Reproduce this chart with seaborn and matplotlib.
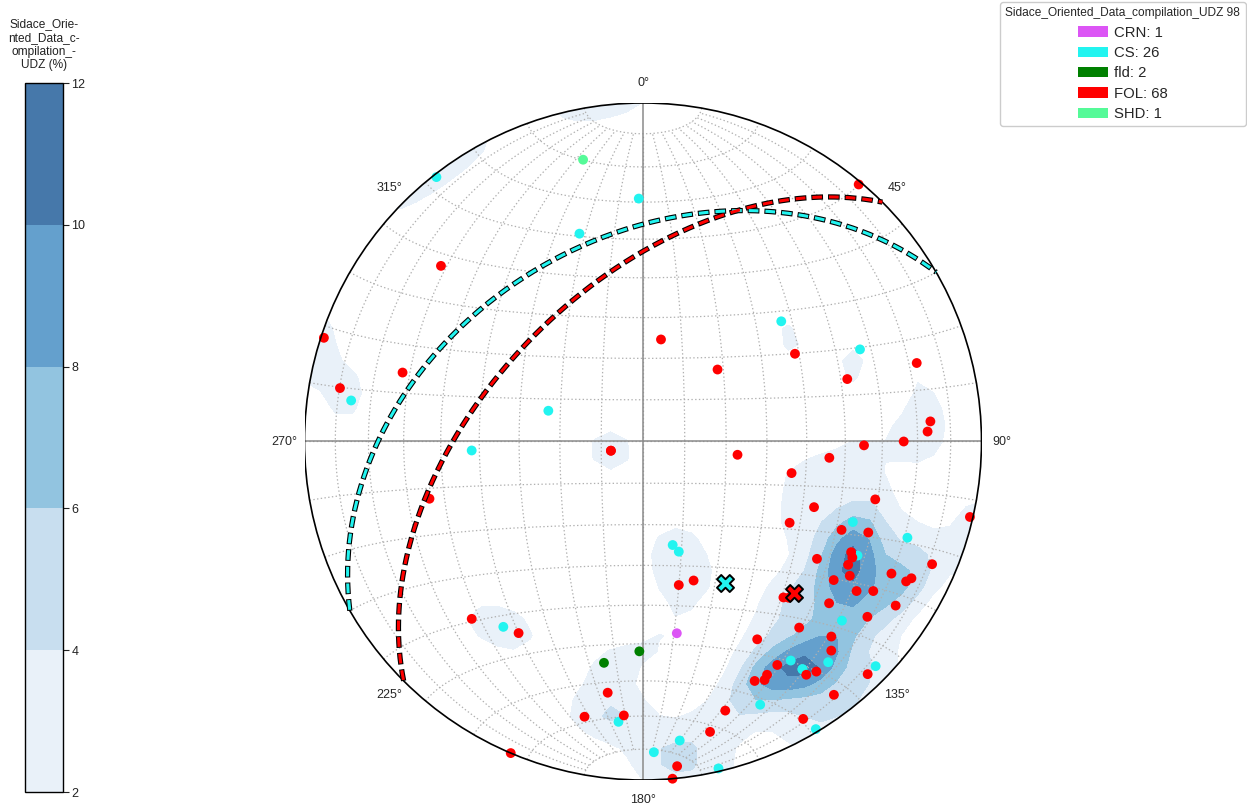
"""Equal-area stereonet of the Sidace oriented data (UDZ): poles, density, mean planes."""

import numpy as np
import pandas as pd
import matplotlib

matplotlib.use("Agg")
import matplotlib.pyplot as plt
import seaborn as sns
from matplotlib.patches import Circle, Patch


# pole orientations (trend / plunge, degrees)
CRN_TREND = [170]
CRN_PLUNGE = [42]

CS_TREND = [322, 278, 359, 343, 288, 49, 67, 267, 217, 164, 162, 185, 173,
            178, 167, 111, 110, 118, 132, 140, 146, 145, 134, 156, 149, 145]
CS_PLUNGE = [1, 14, 29, 36, 66, 45, 31, 48, 32, 64, 62, 18, 12,
             9, 1, 34, 18, 29, 22, 16, 23, 19, 5, 16, 1, 19]

FLD_TREND = [181, 190]
FLD_PLUNGE = [38, 34]

FOL_TREND = [311, 288, 286, 280, 10, 46, 40, 60, 73, 74, 86, 88, 90, 91,
             255, 224, 213, 203, 254, 98, 160, 166, 188, 192, 184, 163, 167,
             174, 175, 95, 102, 104, 111, 119, 103, 114, 112, 118, 119, 121,
             124, 113, 123, 126, 118, 118, 117, 123, 125, 138, 137, 131, 123,
             128, 140, 150, 136, 138, 149, 143, 145, 136, 152, 153, 155, 143,
             150, 254]
FOL_PLUNGE = [22, 1, 27, 10, 65, 65, 1, 47, 37, 17, 16, 17, 24, 35,
              35, 28, 33, 0, 82, 67, 54, 54, 26, 18, 20, 18, 13,
              4, 0, 44, 53, 30, 45, 49, 1, 36, 29, 31, 30, 30,
              38, 8, 28, 31, 18, 13, 12, 20, 24, 38, 37, 28, 12,
              17, 29, 33, 21, 18, 24, 16, 17, 5, 23, 22, 23, 7,
              6, 82]

SHD_TREND = [348]
SHD_PLUNGE = [16]

CLASSES = ["CRN", "CS", "fld", "FOL", "SHD"]
CLASS_COLORS = {
    "CRN": "#dc55f5",
    "CS": "#22f4f0",
    "fld": "#008000",
    "FOL": "#ff0000",
    "SHD": "#55fa98",
}

# mean planes, given by their poles
MEAN_CLASSES = ["CS", "FOL"]
MEAN_TREND = [150, 135]
MEAN_PLUNGE = [50, 37]

LEVELS = [2, 4, 6, 8, 10, 12]
LEVEL_COLORS = ["#e9f1f9", "#c8deef", "#92c4e0", "#64a0cd", "#4678aa"]
AZIMUTHS = [0, 45, 90, 135, 180, 225, 270, 315]
DATASET = "Sidace_Oriented_Data_compilation_UDZ"

W, H = 1247, 805
CX, CY, RAD = 643, 441.5, 338.5


def pole_vectors(trend, plunge):
    t = np.radians(np.asarray(trend, float))
    p = np.radians(np.asarray(plunge, float))
    return np.stack([np.cos(p) * np.sin(t), np.cos(p) * np.cos(t), np.sin(p)], axis=-1)


def project(vec):
    # lower hemisphere, equal-area, unit primitive
    sgn = np.where(vec[..., 2] < 0, -1.0, 1.0)
    e, n, d = vec[..., 0] * sgn, vec[..., 1] * sgn, vec[..., 2] * sgn
    theta = np.arccos(np.clip(d, 0, 1))
    h = np.hypot(e, n)
    h = np.where(h == 0, 1.0, h)
    r = np.sqrt(2) * np.sin(theta / 2)
    return r * e / h, r * n / h


def lonlat_xy(lon, lat):
    lon, lat = np.radians(lon), np.radians(lat)
    k = np.sqrt(2 / (1 + np.cos(lat) * np.cos(lon)))
    return k * np.cos(lat) * np.sin(lon) / np.sqrt(2), k * np.sin(lat) / np.sqrt(2)


def great_circle(trend, plunge):
    t, p = np.radians(trend), np.radians(plunge)
    s = np.array([np.cos(t), -np.sin(t), 0.0])
    dv = np.array([-np.sin(p) * np.sin(t), -np.sin(p) * np.cos(t), np.cos(p)])
    a = np.linspace(0, np.pi, 300)[:, None]
    return project(np.cos(a) * s + np.sin(a) * dv)


def density_grid(vecs, n=45, k=115.0, scale=1.45):
    g = np.linspace(-1.05, 1.05, n)
    gx, gy = np.meshgrid(g, g)
    rr = np.minimum(np.hypot(gx, gy), 1.0)
    theta = 2 * np.arcsin(rr / np.sqrt(2))
    az = np.arctan2(gx, gy)
    nodes = np.stack([np.sin(theta) * np.sin(az), np.sin(theta) * np.cos(az), np.cos(theta)], -1)
    cosg = np.abs(nodes @ vecs.T)
    dens = scale * np.exp(k * (cosg - 1)).sum(-1)
    return gx, gy, np.minimum(dens, 11.99)


def main() -> None:
    sns.set_theme(style="white")
    plt.rcParams["font.family"] = ["Liberation Sans", "DejaVu Sans"]
    plt.rcParams["lines.scale_dashes"] = False

    trends = {"CRN": CRN_TREND, "CS": CS_TREND, "fld": FLD_TREND, "FOL": FOL_TREND, "SHD": SHD_TREND}
    plunges = {"CRN": CRN_PLUNGE, "CS": CS_PLUNGE, "fld": FLD_PLUNGE, "FOL": FOL_PLUNGE, "SHD": SHD_PLUNGE}

    frames = []
    for cls in CLASSES:
        x, y = project(pole_vectors(trends[cls], plunges[cls]))
        frames.append(pd.DataFrame({"x": x, "y": y, "cls": cls}))
    df = pd.concat(frames, ignore_index=True)
    all_vecs = np.concatenate([pole_vectors(trends[c], plunges[c]) for c in CLASSES])

    fig = plt.figure(figsize=(W / 100, H / 100), dpi=100)
    ax = fig.add_axes([(CX - RAD) / W, (H - CY - RAD) / H, 2 * RAD / W, 2 * RAD / H])
    ax.set_xlim(-1, 1)
    ax.set_ylim(-1, 1)
    ax.set_aspect("equal")
    ax.set_axis_off()

    # density of all poles
    gx, gy, dens = density_grid(all_vecs)
    cs = ax.contourf(gx, gy, dens, levels=LEVELS, colors=LEVEL_COLORS, zorder=1)
    clip = Circle((0, 0), 1.0, transform=ax.transData)
    cs.set_clip_path(clip)

    # net: meridians capped at 80 deg, parallels every 10 deg
    grid_kw = dict(color="#b0b0b0", lw=0.9, linestyle=(0, (1.0, 1.7)), zorder=2)
    for lat in range(-80, 90, 10):
        x, y = lonlat_xy(np.linspace(-90, 90, 181), np.full(181, lat))
        ax.plot(x, y, **grid_kw)
    for lon in range(-80, 90, 10):
        x, y = lonlat_xy(np.full(161, lon), np.linspace(-80, 80, 161))
        ax.plot(x, y, **grid_kw)
    ax.plot([-1, 1], [0, 0], color="#8a8a8a", lw=1.1, zorder=2.5)
    ax.plot([0, 0], [-1, 1], color="#8a8a8a", lw=1.1, zorder=2.5)
    ax.add_patch(Circle((0, 0), 1.0, fill=False, ec="black", lw=1.2, zorder=5))

    sns.scatterplot(data=df, x="x", y="y", hue="cls", hue_order=CLASSES, palette=CLASS_COLORS,
                    s=50, linewidth=0, legend=False, ax=ax, zorder=4, clip_on=False)
    ax.set_xlabel("")
    ax.set_ylabel("")

    # mean planes and their poles
    for cls, t, p in zip(MEAN_CLASSES, MEAN_TREND, MEAN_PLUNGE):
        x, y = great_circle(t, p)
        ax.plot(x, y, color="black", lw=3.8, dashes=(8.4, 3.6), zorder=5.5)
        ax.plot(x, y, color=CLASS_COLORS[cls], lw=2.2, linestyle=(11.3, (7.0, 5.0)), zorder=5.6)
        px, py = project(pole_vectors([t], [p]))
        ax.scatter(px, py, marker="X", s=150, c=CLASS_COLORS[cls], edgecolors="black",
                   linewidths=1.4, zorder=6, clip_on=False)

    for az in AZIMUTHS:
        a = np.radians(az)
        ax.text(1.06 * np.sin(a), 1.06 * np.cos(a), f"{az}°", ha="center", va="center",
                fontsize=9, color="#262626", clip_on=False)

    # colour bar
    cax = fig.add_axes([25 / W, 13 / H, 38 / W, 709 / H])
    cb = fig.colorbar(cs, cax=cax, ticks=LEVELS)
    cb.outline.set_linewidth(1.0)
    cb.outline.set_edgecolor("black")
    cax.yaxis.set_ticks_position("right")
    cax.tick_params(axis="y", right=True, length=4, width=0.8, labelsize=9,
                    colors="#222222", direction="out", pad=2)
    fig.text(44 / W, 1 - 18 / H, "Sidace_Orie-\nnted_Data_c-\nompilation_-\nUDZ (%)",
             ha="center", va="top", fontsize=8.6, linespacing=1.2, color="#222222")

    handles = [Patch(facecolor=CLASS_COLORS[c], edgecolor="none") for c in CLASSES]
    labels = [f"{c}: {len(trends[c])}" for c in CLASSES]
    fig.legend(handles, labels, title=f"{DATASET} {len(df)}", loc="upper right",
               bbox_to_anchor=(1245.5 / W, 803 / H), fontsize=10.7, title_fontsize=8.6,
               frameon=True, fancybox=True, edgecolor="#cccccc", framealpha=1,
               borderpad=0.35, labelspacing=0.43, handlelength=2.0, handletextpad=0.45,
               borderaxespad=0)

    fig.savefig("out.png", dpi=100)
    plt.close(fig)


if __name__ == "__main__":
    main()
